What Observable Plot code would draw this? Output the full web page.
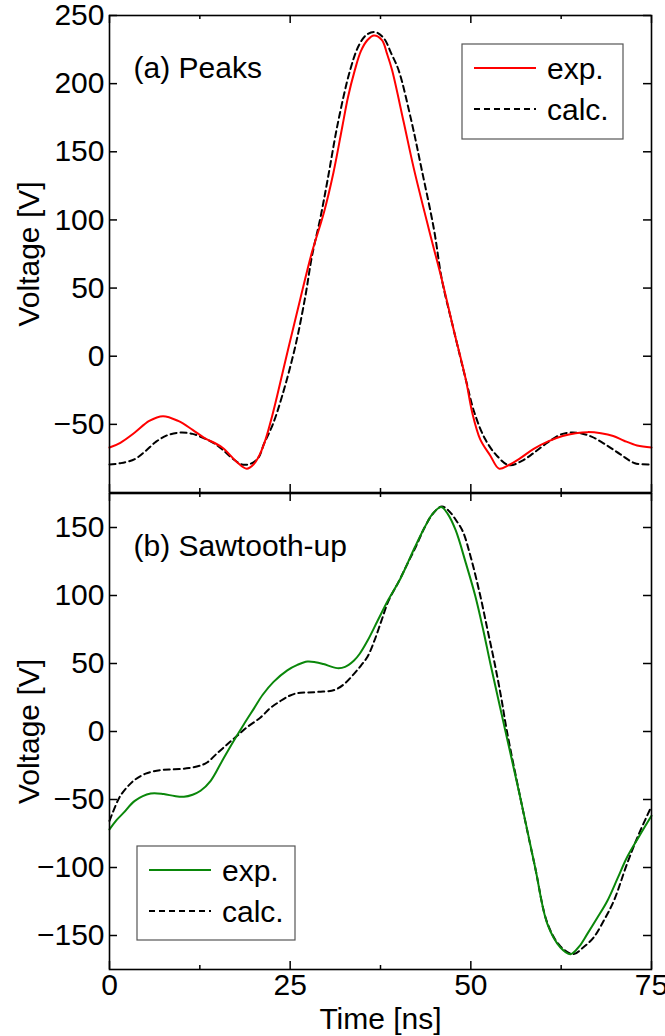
<!DOCTYPE html>
<html>
<head>
<meta charset="utf-8">
<script src="https://cdn.jsdelivr.net/npm/d3@7"></script>
<script src="https://cdn.jsdelivr.net/npm/@observablehq/plot@0.6"></script>
<style>
  html, body { margin: 0; padding: 0; background: #fff; }
  #chart { width: 665px; }
  #chart svg { display: block; overflow: visible; }
</style>
</head>
<body>
<div id="chart"></div>
<script>
// ---- (a) Peaks: measured (exp.) and calculated (calc.) waveforms ----
const peaksExpTime = [0, 1.5, 3.5, 5.5, 7.4, 9.5, 11.5, 13, 15.6, 17.5, 19.0, 20.0, 20.8, 21.6, 22.5, 23.2, 24.8, 26.4, 28.0, 29.7, 31.0, 32.2, 33.0, 33.9, 34.8, 35.7, 36.6, 37.7, 38.4, 39.1, 40.7, 42.1, 44.2, 46.0, 47.6, 49.3, 50.2, 51.3, 52.7, 53.9, 55.2, 56.8, 58.7, 60.7, 62.7, 64.5, 66.2, 68, 69.7, 71.2, 73, 75];
const peaksExpVolt = [-67, -63.5, -56, -47.5, -44, -47.5, -54, -59.5, -67, -77, -82.5, -79, -72, -61, -44, -29, 7, 42, 76, 106, 135, 168, 190, 209, 224, 232, 235.4, 232, 222, 210, 172, 138, 93, 56, 20, -17, -41.5, -61, -73, -82.5, -80, -75, -68, -62.5, -58.6, -56.5, -55.7, -56.5, -58.5, -62, -65.5, -67];
const peaksCalcTime = [0, 1.5, 3.5, 5, 6.5, 8, 9.8, 11.5, 13, 14.5, 15.6, 17, 18.3, 19.5, 20.6, 21.4, 22.6, 23.9, 25.7, 27.1, 28.0, 29.2, 30.2, 31.6, 33.3, 34.5, 35.6, 36.8, 38, 39, 40.0, 41.8, 43.2, 44.9, 46.0, 47.6, 49.3, 50.5, 52.0, 53.6, 55.3, 57, 58.7, 60.7, 62.7, 64.7, 66.7, 68.7, 70.7, 72.7, 75];
const peaksCalcVolt = [-79.4, -78.5, -75.5, -69.5, -62.5, -58, -56, -57, -60, -64, -68.4, -75, -79.4, -79, -74.5, -64, -50, -29, 7, 44, 73, 102, 130, 171, 210, 228, 236, 237.8, 233, 222, 210, 172, 137, 93, 56, 20, -17, -41.5, -61, -73, -80, -77, -71, -63, -57, -56.1, -59, -65, -72, -78.5, -79.4];

// ---- (b) Sawtooth-up ----
const sawExpTime = [0, 1, 2, 3.5, 5.7, 7.5, 9, 10.3, 11.5, 12.6, 14, 15.6, 17.2, 18.6, 20, 21.2, 22.7, 24.6, 26, 27.4, 28.5, 29.6, 31.5, 32.6, 33.8, 34.6, 35.7, 37.1, 38.6, 40.1, 41.1, 42.3, 43.6, 44.7, 45.9, 46.8, 47.9, 49.3, 50.6, 51.7, 52.7, 54.8, 56.9, 58.9, 60.6, 62.4, 63.8, 65, 66.1, 67.5, 68.9, 70.3, 71.6, 73.3, 75];
const sawExpVolt = [-72, -65, -59.5, -51, -45.6, -46, -47.5, -48, -46.5, -43.6, -36.3, -21.5, -6.8, 5.4, 17, 27, 36.5, 45, 49, 51.5, 51, 49.6, 46.6, 47.5, 52, 57, 66.7, 81.4, 97, 110.8, 122, 136, 150, 160, 165, 160, 148, 124, 100, 75, 50, 0, -50, -100, -141.6, -158.8, -163.7, -158, -149, -137, -124.4, -108, -92.6, -77, -62];
const sawCalcTime = [0, 0.8, 1.5, 2.5, 3.5, 5, 7, 9, 11, 12.6, 13.5, 15, 16.5, 17.7, 19, 20.9, 22.2, 23.7, 25, 26.1, 27.4, 29, 31.1, 32.5, 33.8, 34.8, 35.7, 36.6, 37.6, 38.6, 40, 41.1, 42.4, 43.6, 44.8, 46, 47, 48, 48.9, 50, 51.3, 52.3, 53.3, 54.2, 55.0, 56.9, 58.9, 60.6, 62.4, 64.2, 65.5, 67, 68.5, 69.8, 71.6, 73.2, 75];
const sawCalcVolt = [-65.7, -55, -47.3, -40.5, -35.5, -31, -28.4, -27.8, -26.9, -25, -22.8, -15.5, -8.5, -3, 3, 10.3, 17, 22.6, 26.5, 28.3, 28.7, 29.2, 30.5, 35, 42.2, 48.5, 55, 66, 81, 96, 110, 122, 136, 150, 160.5, 165.5, 162, 155, 147, 128, 100, 75, 50, 25, 0, -50, -100, -141, -158, -163.7, -159, -151.4, -138, -124.4, -97.5, -76, -55];

// ---- axes ----
const timeDomain = [0, 75];
const timeMajorTicks = [0, 25, 50, 75];
const timeMinorTicks = [12.5, 37.5, 62.5];
const peaksVoltDomain = [-100, 250];
const peaksVoltTicks = [-50, 0, 50, 100, 150, 200, 250];
const sawVoltDomain = [-175, 175];
const sawVoltTicks = [-150, -100, -50, 0, 50, 100, 150];

const panelLabels = ["(a) Peaks", "(b) Sawtooth-up"];
const legendLabels = ["exp.", "calc."];
const axisLabelX = "Time [ns]";
const axisLabelY = "Voltage [V]";

const FONT = "'Liberation Sans', Arial, Helvetica, sans-serif";
const FS = 30;
const W = 665, ML = 109, MR = 14;
const PW = W - ML - MR;
const DASH = "6,4";
const LINE_W = 2;
const CURVE = "catmull-rom";

const zipSeries = (t, v) => t.map((d, i) => ({t: d, v: v[i]}));
const minusFmt = d => (d < 0 ? "\u2212" + Math.abs(d) : String(d));

// tick marks pointing inward on all four sides
function frameTicks(yTicks, ph) {
  const s = {stroke: "black", strokeWidth: 1.5};
  return [
    Plot.ruleX(timeMajorTicks, {...s, insetTop: ph - 8}),
    Plot.ruleX(timeMinorTicks, {...s, insetTop: ph - 4}),
    Plot.ruleX(timeMajorTicks, {...s, insetBottom: ph - 8}),
    Plot.ruleX(timeMinorTicks, {...s, insetBottom: ph - 4}),
    Plot.ruleY(yTicks, {...s, insetRight: PW - 8}),
    Plot.ruleY(yTicks, {...s, insetLeft: PW - 8})
  ];
}

function addLegend(svg, box, color) {
  const g = d3.select(svg).append("g")
    .attr("font-family", FONT).attr("font-size", FS).attr("text-anchor", "start");
  g.append("rect").attr("x", box.x).attr("y", box.y).attr("width", box.w).attr("height", box.h)
    .attr("fill", "white").attr("stroke", "#555").attr("stroke-width", 1.2);
  const rows = [
    {label: legendLabels[0], stroke: color, dash: null},
    {label: legendLabels[1], stroke: "black", dash: DASH}
  ];
  rows.forEach((r, i) => {
    const y = box.y + 24 + i * 41;
    g.append("line").attr("x1", box.x + 12).attr("x2", box.x + 74).attr("y1", y).attr("y2", y)
      .attr("stroke", r.stroke).attr("stroke-width", LINE_W)
      .attr("stroke-dasharray", r.dash);
    g.append("text").attr("x", box.x + 85).attr("y", y + 11).attr("fill", "black").text(r.label);
  });
}

// ---- panel (a) ----
const topH = 493, topMT = 15, topMB = 1;
const topPH = topH - topMT - topMB;
const peaksExp = zipSeries(peaksExpTime, peaksExpVolt);
const peaksCalc = zipSeries(peaksCalcTime, peaksCalcVolt);

const peaksChart = Plot.plot({
  width: W, height: topH,
  marginLeft: ML, marginRight: MR, marginTop: topMT, marginBottom: topMB,
  style: {fontFamily: FONT, fontSize: FS + "px", background: "white", overflow: "visible"},
  x: {domain: timeDomain, axis: null},
  y: {domain: peaksVoltDomain},
  marks: [
    Plot.axisY(peaksVoltTicks, {anchor: "left", tickSize: 0, tickPadding: 5, label: null, tickFormat: minusFmt, fontSize: FS}),
    Plot.line(peaksCalc, {x: "t", y: "v", stroke: "black", strokeWidth: LINE_W, strokeDasharray: DASH, curve: CURVE}),
    Plot.line(peaksExp, {x: "t", y: "v", stroke: "#ff0000", strokeWidth: LINE_W, curve: CURVE}),
    ...frameTicks(peaksVoltTicks, topPH),
    Plot.frame({stroke: "black", strokeWidth: 1.6}),
    Plot.text([panelLabels[0]], {frameAnchor: "top-left", dx: 24, dy: 41, textAnchor: "start", lineAnchor: "top", fontSize: FS}),
    Plot.text([axisLabelY], {frameAnchor: "left", dx: -80, rotate: -90, textAnchor: "middle", fontSize: FS})
  ]
});
addLegend(peaksChart, {x: 462, y: 44, w: 161, h: 95}, "#ff0000");

// ---- panel (b) ----
const botH = 543, botMT = 0, botMB = 67;
const botPH = botH - botMT - botMB;
const sawExp = zipSeries(sawExpTime, sawExpVolt);
const sawCalc = zipSeries(sawCalcTime, sawCalcVolt);

const sawChart = Plot.plot({
  width: W, height: botH,
  marginLeft: ML, marginRight: MR, marginTop: botMT, marginBottom: botMB,
  style: {fontFamily: FONT, fontSize: FS + "px", background: "white", overflow: "visible"},
  x: {domain: timeDomain},
  y: {domain: sawVoltDomain},
  marks: [
    Plot.axisX(timeMajorTicks, {anchor: "bottom", tickSize: 0, tickPadding: 4, label: null, fontSize: FS}),
    Plot.axisY(sawVoltTicks, {anchor: "left", tickSize: 0, tickPadding: 5, label: null, tickFormat: minusFmt, fontSize: FS}),
    Plot.line(sawCalc, {x: "t", y: "v", stroke: "black", strokeWidth: LINE_W, strokeDasharray: DASH, curve: CURVE}),
    Plot.line(sawExp, {x: "t", y: "v", stroke: "#0a870a", strokeWidth: LINE_W, curve: CURVE}),
    ...frameTicks(sawVoltTicks, botPH),
    Plot.frame({stroke: "black", strokeWidth: 1.6}),
    Plot.text([panelLabels[1]], {frameAnchor: "top-left", dx: 24, dy: 41, textAnchor: "start", lineAnchor: "top", fontSize: FS}),
    Plot.text([axisLabelY], {frameAnchor: "left", dx: -80, rotate: -90, textAnchor: "middle", fontSize: FS}),
    Plot.text([axisLabelX], {frameAnchor: "bottom", dy: 38, lineAnchor: "top", fontSize: FS})
  ]
});
addLegend(sawChart, {x: 137, y: 353, w: 158, h: 94}, "#0a870a");

document.getElementById("chart").append(peaksChart, sawChart);
</script>
</body>
</html>
